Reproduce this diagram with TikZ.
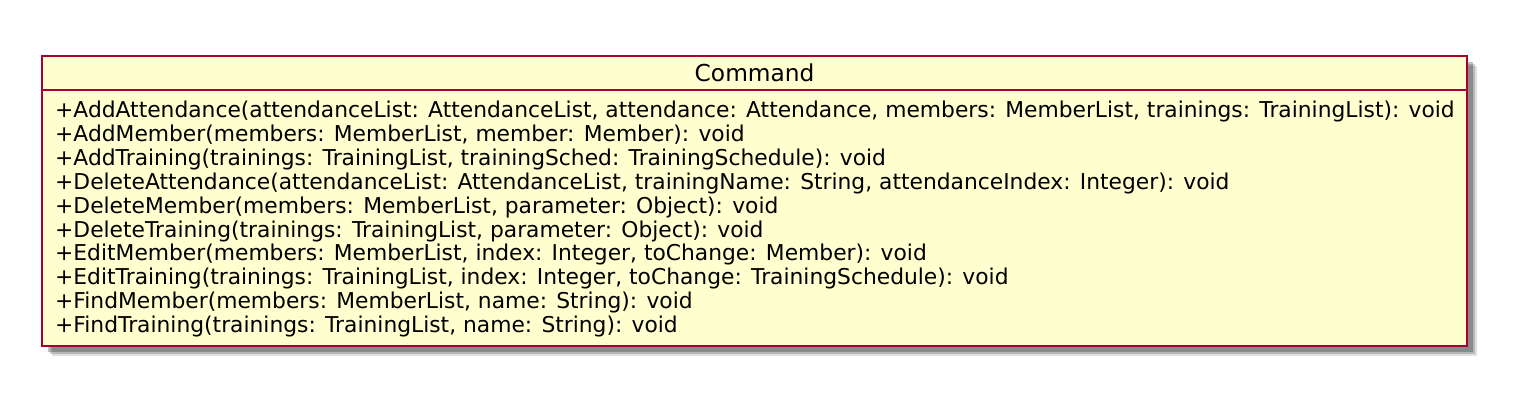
\documentclass[tikz,border=0pt]{standalone}
\usepackage{fontspec}
\setmainfont{DejaVu Sans}
\usepackage{xcolor}
\usetikzlibrary{shadows}

\definecolor{classfill}{HTML}{FEFECE}
\definecolor{classborder}{HTML}{A80036}

\tikzset{
	classbox/.style = {draw = classborder, line width = 2.2pt, fill = classfill,
		drop shadow = {shadow xshift = 10pt, shadow yshift = -10pt, fill = black, opacity = 0.12},
		drop shadow = {shadow xshift = 8pt, shadow yshift = -8pt, fill = black, opacity = 0.18},
		drop shadow = {shadow xshift = 6pt, shadow yshift = -6pt, fill = black, opacity = 0.25},
		anchor = north west, inner sep = 0pt},
	classname/.style = {font = \fontsize{23.3}{28}\selectfont, anchor = base, inner sep = 0pt},
	classops/.style = {font = \fontsize{21.8}{23.85}\selectfont, align = left, anchor = north west, inner sep = 0pt},
	classline/.style = {draw = classborder, line width = 2.2pt}
}

\begin{document}
\begin{tikzpicture}[x = 1pt, y = 1pt]
		\useasboundingbox (0, 0) rectangle (1526, -410);
		\node[classbox, minimum width = 1425pt, minimum height = 290pt] (cmd) at (41, -55) {};
		\node[classname] (cmdname) at (cmd.north |- 0, -81.7) {Command};
		\coordinate (sepw) at (cmd.west |- 0, -90);
		\coordinate (sepe) at (cmd.east |- 0, -90);
		\draw[classline] (sepw) -- (sepe);
		\node[classops] (cmdops) at (55, -101) {%
			+AddAttendance(attendanceList: AttendanceList, attendance: Attendance, members: MemberList, trainings: TrainingList): void\\
			+AddMember(members: MemberList, member: Member): void\\
			+AddTraining(trainings: TrainingList, trainingSched: TrainingSchedule): void\\
			+DeleteAttendance(attendanceList: AttendanceList, trainingName: String, attendanceIndex: Integer): void\\
			+DeleteMember(members: MemberList, parameter: Object): void\\
			+DeleteTraining(trainings: TrainingList, parameter: Object): void\\
			+EditMember(members: MemberList, index: Integer, toChange: Member): void\\
			+EditTraining(trainings: TrainingList, index: Integer, toChange: TrainingSchedule): void\\
			+FindMember(members: MemberList, name: String): void\\
			+FindTraining(trainings: TrainingList, name: String): void};
	\end{tikzpicture}
\end{document}
